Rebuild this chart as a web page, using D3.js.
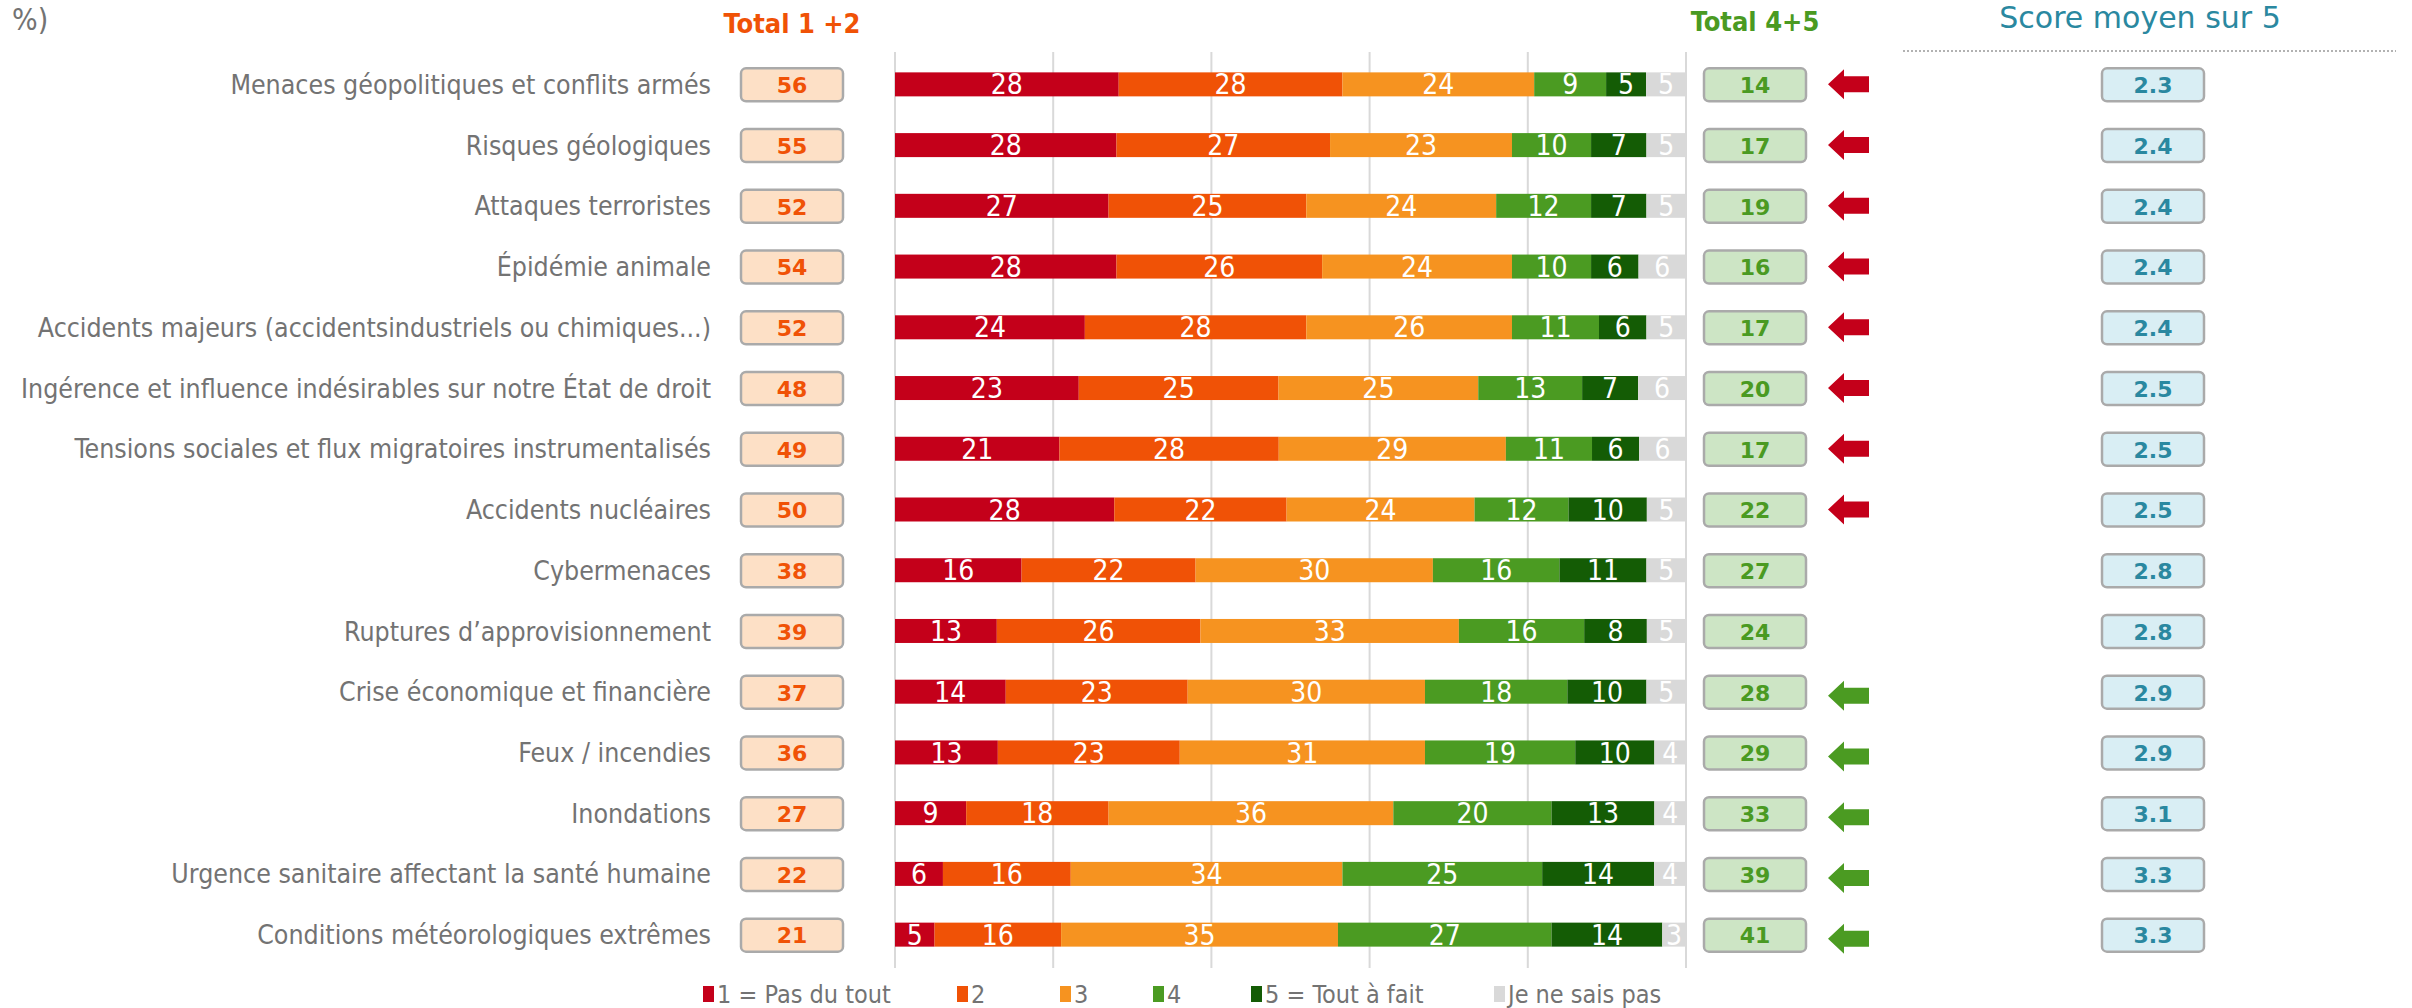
<!DOCTYPE html>
<html>
<head>
<meta charset="utf-8">
<script src="https://cdn.jsdelivr.net/npm/d3@7"></script>
<style>
  body { margin: 0; background: #fff; }
  svg text { font-family: "Liberation Sans Narrow", "DejaVu Sans Condensed", "Liberation Sans", sans-serif; }
</style>
</head>
<body>
<div id="chart"></div>
<script>
// categories, top to bottom
const categories = [
  "Menaces géopolitiques et conflits armés",
  "Risques géologiques",
  "Attaques terroristes",
  "Épidémie animale",
  "Accidents majeurs (accidentsindustriels ou chimiques...)",
  "Ingérence et influence indésirables sur notre État de droit",
  "Tensions sociales et flux migratoires  instrumentalisés",
  "Accidents nucléaires",
  "Cybermenaces",
  "Ruptures d’approvisionnement",
  "Crise économique et financière",
  "Feux / incendies",
  "Inondations",
  "Urgence sanitaire affectant la santé humaine",
  "Conditions météorologiques extrêmes"
];

// answer shares (%)
const pasDuTout = [28, 28, 27, 28, 24, 23, 21, 28, 16, 13, 14, 13, 9, 6, 5];
const deux      = [28, 27, 25, 26, 28, 25, 28, 22, 22, 26, 23, 23, 18, 16, 16];
const trois     = [24, 23, 24, 24, 26, 25, 29, 24, 30, 33, 30, 31, 36, 34, 35];
const quatre    = [9, 10, 12, 10, 11, 13, 11, 12, 16, 16, 18, 19, 20, 25, 27];
const toutAFait = [5, 7, 7, 6, 6, 7, 6, 10, 11, 8, 10, 10, 13, 14, 14];
const nsp       = [5, 5, 5, 6, 5, 6, 6, 5, 5, 5, 5, 4, 4, 4, 3];

const total12 = [56, 55, 52, 54, 52, 48, 49, 50, 38, 39, 37, 36, 27, 22, 21];
const total45 = [14, 17, 19, 16, 17, 20, 17, 22, 27, 24, 28, 29, 33, 39, 41];
const scores  = ["2.3", "2.4", "2.4", "2.4", "2.4", "2.5", "2.5", "2.5", "2.8", "2.8", "2.9", "2.9", "3.1", "3.3", "3.3"];
// +1 = higher concern, -1 = lower concern, 0 = no arrow
const signal  = [1, 1, 1, 1, 1, 1, 1, 1, 0, 0, -1, -1, -1, -1, -1];

const legendLabels = ["1 = Pas du tout", "2", "3", "4", "5 = Tout à fait", "Je ne sais pas"];
const gridTicks = [0, 0.2, 0.4, 0.6, 0.8, 1];

// build the table for the stack
const keys = ["s1", "s2", "s3", "s4", "s5", "nsp"];
const rows = categories.map((c, i) => ({
  cat: c, s1: pasDuTout[i], s2: deux[i], s3: trois[i], s4: quatre[i], s5: toutAFait[i], nsp: nsp[i]
}));

var width = 2412, height = 1008;
var colors = d3.scaleOrdinal().domain(keys)
  .range(["#c4001a", "#f05206", "#f69320", "#4b9b22", "#145c05", "#d9d9d9"]);
var labelGray = "#737373";

var svg = d3.select("#chart").append("svg")
  .attr("width", width).attr("height", height);

// each bar fills the full width (rounded shares don't always add to 100)
var x = d3.scaleLinear().domain([0, 1]).range([895, 1686]);
var y = d3.scaleBand().domain(categories).range([54, 965]);
var rowMid = c => y(c) + y.bandwidth() / 2;
var barH = 24;

// grid lines
svg.append("g").selectAll("line")
  .data(gridTicks).enter().append("line")
  .attr("x1", d => x(d)).attr("x2", d => x(d))
  .attr("y1", 52).attr("y2", 968)
  .attr("stroke", "#d9d9d9").attr("stroke-width", 2);

// stacked bars
var series = d3.stack().keys(keys).offset(d3.stackOffsetExpand)(rows);
var layers = svg.append("g").selectAll("g")
  .data(series).enter().append("g")
  .attr("fill", d => colors(d.key));

layers.selectAll("rect")
  .data(d => d).enter().append("rect")
  .attr("x", d => x(d[0]))
  .attr("width", d => x(d[1]) - x(d[0]))
  .attr("y", d => rowMid(d.data.cat) - barH / 2)
  .attr("height", barH);

layers.selectAll("text")
  .data(d => d.map(p => ({ p: p, key: d.key }))).enter().append("text")
  .attr("x", d => (x(d.p[0]) + x(d.p[1])) / 2)
  .attr("y", d => rowMid(d.p.data.cat))
  .attr("dy", "0.36em")
  .attr("text-anchor", "middle")
  .style("font-size", "28px")
  .style("fill", "#fff")
  .text(d => d.p.data[d.key]);

// category labels
svg.append("g").selectAll("text")
  .data(categories).enter().append("text")
  .attr("x", 711).attr("y", d => rowMid(d)).attr("dy", "0.36em")
  .attr("text-anchor", "end")
  .style("font-size", "26.5px").style("fill", labelGray)
  .text(d => d);

// rounded value boxes
function boxes(values, cx, fill, textColor) {
  var g = svg.append("g").selectAll("g")
    .data(values).enter().append("g")
    .attr("transform", (d, i) => "translate(" + cx + "," + rowMid(categories[i]) + ")");
  g.append("rect")
    .attr("x", -51).attr("y", -16).attr("width", 102).attr("height", 33)
    .attr("rx", 5)
    .attr("fill", fill).attr("stroke", "#aaaaaa").attr("stroke-width", 2.5);
  g.append("text")
    .attr("text-anchor", "middle").attr("dy", "0.4em")
    .style("font-family", "'DejaVu Sans', Verdana, sans-serif")
    .style("font-weight", "bold").style("font-size", "22px")
    .style("fill", textColor)
    .text(d => d);
}
boxes(total12, 792, "#fde0c6", "#f05206");
boxes(total45, 1755, "#cde5c5", "#4a9a22");
boxes(scores, 2153, "#d9eef4", "#2a88a0");

// arrows (all pointing left)
var arrowPath = "M0,0 L16,-15 L16,-8 L41,-8 L41,8 L16,8 L16,15 Z";
svg.append("g").selectAll("path")
  .data(signal.map((s, i) => ({ s: s, cat: categories[i] })).filter(d => d.s !== 0))
  .enter().append("path")
  .attr("d", arrowPath)
  .attr("transform", d => "translate(1828," + (rowMid(d.cat) + (d.s > 0 ? 0 : 4)) + ")")
  .attr("fill", d => d.s > 0 ? "#c4001a" : "#4b9b22");

// headers
svg.append("text").attr("x", 12).attr("y", 30)
  .style("font-size", "30px").style("fill", labelGray).text("%)");

svg.append("text").attr("x", 792).attr("y", 33).attr("text-anchor", "middle")
  .style("font-size", "27px").style("font-weight", "bold").style("fill", "#f05206")
  .text("Total 1 +2");

svg.append("text").attr("x", 1755).attr("y", 31).attr("text-anchor", "middle")
  .style("font-size", "27px").style("font-weight", "bold").style("fill", "#4a9a22")
  .text("Total 4+5");

svg.append("text").attr("x", 2140).attr("y", 28).attr("text-anchor", "middle")
  .style("font-family", "'DejaVu Sans', Verdana, sans-serif")
  .style("font-size", "30px").style("fill", "#2a88a0")
  .text("Score moyen sur 5");

svg.append("line")
  .attr("x1", 1903).attr("x2", 2396).attr("y1", 51).attr("y2", 51)
  .attr("stroke", "#999").attr("stroke-width", 1.5).attr("stroke-dasharray", "2,2");

// legend
var legendX = [703, 957, 1060, 1153, 1251, 1494];
var leg = svg.append("g").selectAll("g")
  .data(keys).enter().append("g")
  .attr("transform", (d, i) => "translate(" + legendX[i] + ",994)");
leg.append("rect").attr("x", 0).attr("y", -8).attr("width", 11).attr("height", 16)
  .attr("fill", d => colors(d));
leg.append("text").attr("x", 14).attr("dy", "0.36em")
  .style("font-size", "25px").style("fill", labelGray)
  .text((d, i) => legendLabels[i]);
</script>
</body>
</html>
